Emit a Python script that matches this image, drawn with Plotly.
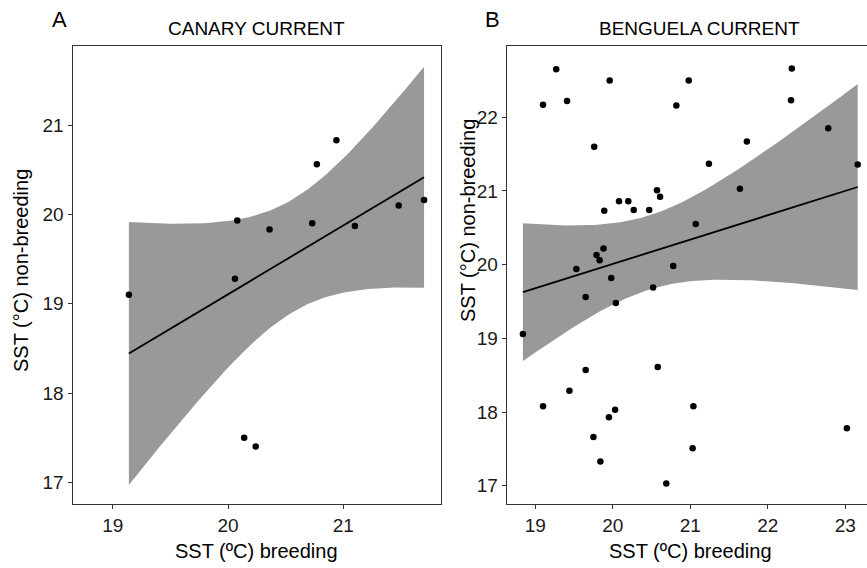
import numpy as np
import plotly.graph_objects as go

# ---------------- data ----------------
canary_breeding = [19.14, 20.06, 20.08, 20.14, 20.24, 20.36, 20.73, 20.77, 20.94, 21.10, 21.48, 21.70]
canary_nonbreeding = [19.10, 19.28, 19.93, 17.50, 17.40, 19.83, 19.90, 20.56, 20.83, 19.87, 20.10, 20.16]

benguela_breeding = [19.10, 19.27, 19.41, 19.96, 19.76, 20.82, 20.98, 22.31, 22.30, 22.78,
                     21.73, 21.24, 23.16, 21.64, 20.57, 20.61, 20.08, 20.20, 19.89, 20.27,
                     20.47, 21.07, 19.88, 19.79, 19.83, 19.53, 20.78, 19.98, 20.52, 19.65,
                     20.04, 18.84, 19.65, 20.58, 19.44, 19.10, 20.03, 19.95, 21.04, 19.75,
                     21.03, 19.84, 20.69, 23.02]
benguela_nonbreeding = [22.17, 22.65, 22.22, 22.50, 21.60, 22.16, 22.50, 22.66, 22.23, 21.85,
                        21.67, 21.37, 21.36, 21.03, 21.01, 20.92, 20.86, 20.86, 20.73, 20.74,
                        20.74, 20.55, 20.22, 20.13, 20.06, 19.94, 19.98, 19.82, 19.69, 19.56,
                        19.48, 19.06, 18.57, 18.61, 18.29, 18.08, 18.03, 17.93, 18.08, 17.66,
                        17.51, 17.33, 17.03, 17.78]

panel_titles = ["CANARY CURRENT", "BENGUELA CURRENT"]
panel_letters = ["A", "B"]
x_title = "SST (ºC) breeding"
y_title = "SST (°C) non-breeding"
ticks_x_A = [19, 20, 21]
ticks_x_B = [19, 20, 21, 22, 23]
ticks_y_A = [17, 18, 19, 20, 21]
ticks_y_B = [17, 18, 19, 20, 21, 22]

# 97.5% t quantiles for the 95% confidence band (df = n - 2)
T975 = {10: 2.228, 42: 2.018}


def lm_band(x, y, n_grid=80):
    """Linear fit with 95% confidence band, like geom_smooth(method='lm')."""
    x = np.asarray(x, float)
    y = np.asarray(y, float)
    n = len(x)
    slope, intercept = np.polyfit(x, y, 1)
    resid = y - (slope * x + intercept)
    s = np.sqrt(np.sum(resid ** 2) / (n - 2))
    sxx = np.sum((x - x.mean()) ** 2)
    xs = np.linspace(x.min(), x.max(), n_grid)
    fit = slope * xs + intercept
    se = s * np.sqrt(1.0 / n + (xs - x.mean()) ** 2 / sxx)
    t = T975.get(n - 2, 2.0)
    return xs, fit, fit - t * se, fit + t * se


FONT = "Liberation Sans, Arial, sans-serif"
W, H = 867, 568
fig = go.Figure()

panels = [
    (canary_breeding, canary_nonbreeding, "x", "y"),
    (benguela_breeding, benguela_nonbreeding, "x2", "y2"),
]
for bx, by, xa, ya in panels:
    xs, fit, lo, hi = lm_band(bx, by)
    fig.add_trace(go.Scatter(
        x=np.concatenate([xs, xs[::-1]]), y=np.concatenate([hi, lo[::-1]]),
        fill="toself", fillcolor="#999999", line=dict(width=0),
        mode="lines", hoverinfo="skip", showlegend=False, xaxis=xa, yaxis=ya))
    fig.add_trace(go.Scatter(
        x=xs, y=fit, mode="lines", line=dict(color="black", width=1.8),
        showlegend=False, xaxis=xa, yaxis=ya))
    fig.add_trace(go.Scatter(
        x=bx, y=by, mode="markers", marker=dict(color="black", size=6.5),
        showlegend=False, xaxis=xa, yaxis=ya))


def px_x(p):
    return p / W


def px_y(p):
    return 1 - p / H


ydom = [px_y(504.3), px_y(46)]
axis_common = dict(showgrid=False, zeroline=False, showline=True, linecolor="#333333",
                   linewidth=1, ticks="outside", ticklen=4, tickcolor="#333333",
                   tickfont=dict(family=FONT, size=19, color="#1a1a1a"))

fig.update_layout(
    width=W, height=H, margin=dict(l=0, r=0, t=0, b=0),
    paper_bgcolor="white", plot_bgcolor="white", showlegend=False,
    xaxis=dict(domain=[px_x(72.5), px_x(441)], range=[18.651, 21.847],
               tickvals=ticks_x_A, mirror=True, anchor="y", **axis_common),
    yaxis=dict(domain=ydom, range=[16.754, 21.885], tickvals=ticks_y_A,
               mirror=True, anchor="x", **axis_common),
    xaxis2=dict(domain=[px_x(506.7), 1.0], range=[18.631, 23.28],
                tickvals=ticks_x_B, mirror=True, anchor="y2", **axis_common),
    yaxis2=dict(domain=ydom, range=[16.748, 22.967], tickvals=ticks_y_B,
                mirror=False, anchor="x2", **axis_common),
)

ann = []
# panel titles
for text, cx in zip(panel_titles, [256.7, 699]):
    ann.append(dict(text=text, x=px_x(cx), y=px_y(29), xref="paper", yref="paper",
                    showarrow=False, xanchor="center", yanchor="middle",
                    font=dict(family=FONT, size=19, color="black")))
# panel letters
for text, cx in zip(panel_letters, [59, 492]):
    ann.append(dict(text=text, x=px_x(cx), y=px_y(20), xref="paper", yref="paper",
                    showarrow=False, xanchor="center", yanchor="middle",
                    font=dict(family=FONT, size=22, color="black")))
# axis titles
for cx in [256.7, 690]:
    ann.append(dict(text=x_title, x=px_x(cx), y=px_y(551), xref="paper", yref="paper",
                    showarrow=False, xanchor="center", yanchor="middle",
                    font=dict(family=FONT, size=20, color="black")))
for cx, cy in [(21, 271), (468, 221)]:
    ann.append(dict(text=y_title, x=px_x(cx), y=px_y(cy), xref="paper", yref="paper",
                    showarrow=False, xanchor="center", yanchor="middle", textangle=-90,
                    font=dict(family=FONT, size=20, color="black")))
fig.update_layout(annotations=ann)

fig.write_html(
    "out.html",
    config={"displayModeBar": False},
    post_script="document.body.style.margin='0px';document.body.style.overflow='hidden';",
)
